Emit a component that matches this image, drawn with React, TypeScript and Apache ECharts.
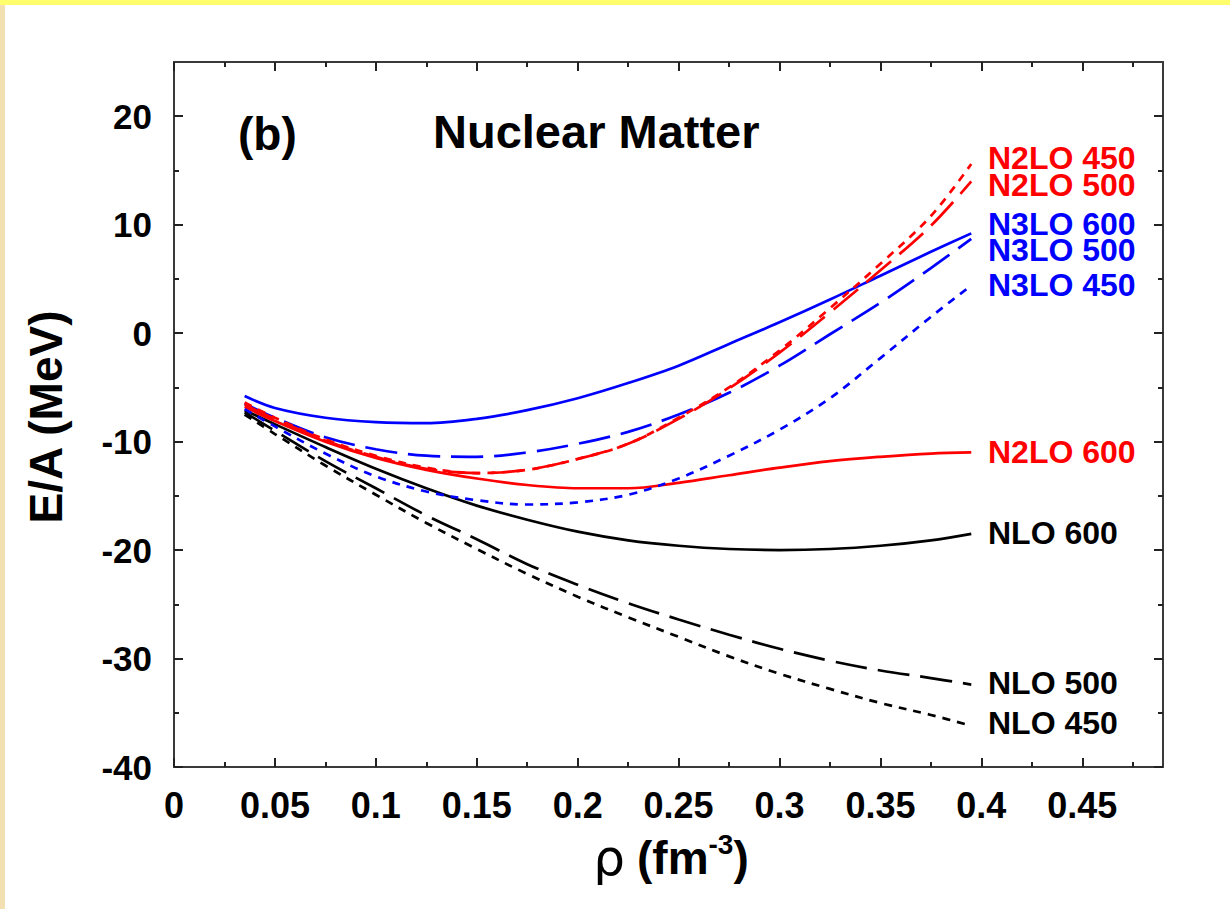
import React, { useEffect, useRef } from "react";
import * as echarts from "echarts";

// Density grid (fm^-3) on which every curve is sampled
const rho = [0.035, 0.05, 0.075, 0.1, 0.125, 0.15, 0.175, 0.2, 0.225, 0.25, 0.275, 0.3, 0.325, 0.35, 0.375, 0.395];

// Energy per nucleon E/A (MeV)
const nlo450 = [-7.5, -9.3, -12.2, -14.9, -17.5, -19.9, -22.2, -24.3, -26.2, -28.0, -29.8, -31.4, -32.8, -34.1, -35.2, -36.2];
const nlo500 = [-7.3, -9.0, -11.8, -14.3, -16.8, -19.0, -21.3, -23.2, -24.9, -26.4, -27.8, -29.1, -30.2, -31.1, -31.8, -32.4];
const nlo600 = [-7.1, -8.4, -10.5, -12.5, -14.3, -15.9, -17.2, -18.3, -19.1, -19.6, -19.9, -20.0, -19.9, -19.6, -19.1, -18.5];
const n2lo450 = [-6.4, -7.8, -9.8, -11.3, -12.4, -12.9, -12.6, -11.6, -10.2, -7.8, -5.0, -1.6, 2.3, 6.4, 10.8, 15.6];
const n2lo500 = [-6.6, -7.9, -9.9, -11.4, -12.5, -12.9, -12.6, -11.6, -10.2, -7.9, -5.1, -1.8, 1.9, 5.8, 9.9, 14.0];
const n2lo600 = [-6.8, -8.1, -10.0, -11.5, -12.6, -13.4, -14.0, -14.3, -14.3, -13.8, -13.1, -12.4, -11.8, -11.4, -11.1, -11.0];
const n3lo450 = [-7.0, -8.6, -11.1, -13.2, -14.6, -15.4, -15.8, -15.6, -14.9, -13.4, -11.3, -8.9, -6.0, -2.3, 1.5, 4.4];
const n3lo500 = [-6.5, -7.8, -9.6, -10.7, -11.3, -11.4, -11.0, -10.2, -9.1, -7.5, -5.5, -3.0, -0.1, 2.8, 6.0, 8.7];
const n3lo600 = [-5.8, -6.9, -7.8, -8.2, -8.3, -7.9, -7.1, -6.0, -4.6, -3.0, -1.0, 1.0, 3.1, 5.3, 7.5, 9.2];

// Axis ticks
const xMajor = [0, 0.05, 0.1, 0.15, 0.2, 0.25, 0.3, 0.35, 0.4, 0.45];
const xMinor = [0.025, 0.075, 0.125, 0.175, 0.225, 0.275, 0.325, 0.375, 0.425, 0.475];
const yMajor = [-40, -30, -20, -10, 0, 10, 20];
const yMinor = [-35, -25, -15, -5, 5, 15];

// Curve labels beside the right ends; closely stacked pairs share one two-line block
const labelNames = ["N2LO 450\nN2LO 500", "N3LO 600\nN3LO 500", "N3LO 450", "N2LO 600", "NLO 600", "NLO 500", "NLO 450"];
const labelColors = ["#ff0000", "#0000ff", "#0000ff", "#ff0000", "#000000", "#000000", "#000000"];
const labelY = [171.5, 237, 285, 452, 533, 683, 723];
const labelLineHeight = [27, 26, 30, 30, 30, 30, 30];

const FONT = "'Liberation Sans', Arial, Helvetica, sans-serif";
const RED = "#ff0000";
const BLUE = "#0000ff";
const BLACK = "#000000";
const LONG_DASH: number[] = [32, 11];
const SHORT_DASH: number[] = [8, 7];

function pairs(ys: number[]) {
  return rho.map((x, i) => [x, ys[i]]);
}

function curve(name: string, ys: number[], color: string, type: any) {
  return {
    name,
    type: "line",
    data: pairs(ys),
    smooth: 0.35,
    showSymbol: false,
    symbol: "none",
    xAxisIndex: 0,
    yAxisIndex: 0,
    lineStyle: { color, width: 2.7, type },
    z: 3,
  };
}

function xAxisDef(position: string, ticks: number[], len: number, labels: boolean, line: boolean) {
  return {
    type: "value",
    position,
    min: 0,
    max: 0.49,
    interval: 0.05,
    splitLine: { show: false },
    axisLine: { show: line, onZero: false, lineStyle: { color: "#3a3a3a", width: 2 } },
    axisTick: { show: true, inside: true, length: len, customValues: ticks, lineStyle: { color: "#222", width: 2 } },
    axisLabel: {
      show: labels,
      customValues: ticks,
      margin: 20,
      fontFamily: FONT,
      fontWeight: "bold",
      fontSize: 36,
      color: "#000",
      formatter: (v: number) => (v === 0 ? "0" : String(+v.toFixed(3))),
    },
  };
}

function yAxisDef(position: string, ticks: number[], len: number, labels: boolean, line: boolean) {
  return {
    type: "value",
    position,
    min: -40,
    max: 25,
    interval: 10,
    splitLine: { show: false },
    axisLine: { show: line, onZero: false, lineStyle: { color: "#3a3a3a", width: 2 } },
    axisTick: { show: true, inside: true, length: len, customValues: ticks, lineStyle: { color: "#222", width: 2 } },
    axisLabel: {
      show: labels,
      customValues: ticks,
      margin: 22,
      fontFamily: FONT,
      fontWeight: "bold",
      fontSize: 35,
      color: "#000",
      formatter: (v: number) => String(v),
    },
  };
}

export default function App() {
  const ref = useRef<HTMLDivElement>(null);

  useEffect(() => {
    if (!ref.current) return;
    const chart = echarts.init(ref.current, null, { renderer: "svg" });

    const labels = labelNames.map((t, i) => ({
      type: "text",
      x: 988,
      y: labelY[i],
      style: {
        text: t,
        fill: labelColors[i],
        fontFamily: FONT,
        fontWeight: "bold",
        fontSize: 32,
        lineHeight: labelLineHeight[i],
        align: "left",
        verticalAlign: "middle",
      },
      z: 10,
    }));

    chart.setOption({
      animation: false,
      backgroundColor: "#ffffff",
      grid: { left: 174, top: 62, right: 67, bottom: 142, containLabel: false },
      xAxis: [
        xAxisDef("bottom", xMajor, 9, true, true),
        xAxisDef("bottom", xMinor, 5, false, false),
        xAxisDef("top", xMajor, 9, false, true),
        xAxisDef("top", xMinor, 5, false, false),
      ],
      yAxis: [
        yAxisDef("left", yMajor, 9, true, true),
        yAxisDef("left", yMinor, 5, false, false),
        yAxisDef("right", yMajor, 9, false, true),
        yAxisDef("right", yMinor, 5, false, false),
      ],
      series: [
        curve("NLO 450", nlo450, BLACK, SHORT_DASH),
        curve("NLO 500", nlo500, BLACK, LONG_DASH),
        curve("NLO 600", nlo600, BLACK, "solid"),
        curve("N2LO 600", n2lo600, RED, "solid"),
        curve("N3LO 450", n3lo450, BLUE, SHORT_DASH),
        curve("N3LO 500", n3lo500, BLUE, LONG_DASH),
        curve("N3LO 600", n3lo600, BLUE, "solid"),
        curve("N2LO 500", n2lo500, RED, LONG_DASH),
        curve("N2LO 450", n2lo450, RED, SHORT_DASH),
      ],
      graphic: [
        { type: "rect", shape: { x: 0, y: 0, width: 1230, height: 5 }, style: { fill: "#ffff6e" }, silent: true },
        { type: "rect", shape: { x: 0, y: 5, width: 5, height: 904 }, style: { fill: "#f2e0b2" }, silent: true },
        {
          type: "text",
          x: 238,
          y: 134,
          style: { text: "(b)", fill: "#000", fontFamily: FONT, fontWeight: "bold", fontSize: 46, align: "left", verticalAlign: "middle" },
        },
        {
          type: "text",
          x: 433,
          y: 131,
          style: { text: "Nuclear Matter", fill: "#000", fontFamily: FONT, fontWeight: "bold", fontSize: 47, align: "left", verticalAlign: "middle" },
        },
        {
          type: "text",
          x: 46,
          y: 417,
          rotation: Math.PI / 2,
          style: { text: "E/A (MeV)", fill: "#000", fontFamily: FONT, fontWeight: "bold", fontSize: 46, align: "center", verticalAlign: "middle" },
        },
        {
          type: "text",
          x: 671,
          y: 858,
          style: {
            text: "{r|ρ}{sp| }{b|(fm}{s|-3}{b|)}",
            align: "center",
            verticalAlign: "middle",
            rich: {
              r: { fontFamily: "'DejaVu Sans', sans-serif", fontSize: 50, fill: "#000", lineHeight: 56, verticalAlign: "middle" },
              sp: { fontFamily: FONT, fontSize: 20, width: 12, lineHeight: 56, verticalAlign: "middle" },
              b: { fontFamily: FONT, fontWeight: "bold", fontSize: 46, fill: "#000", lineHeight: 56, verticalAlign: "middle" },
              s: { fontFamily: FONT, fontWeight: "bold", fontSize: 28, fill: "#000", lineHeight: 28, verticalAlign: "top" },
            },
          },
        },
        ...labels,
      ],
    });

    return () => chart.dispose();
  }, []);

  return (
    <div
      ref={ref}
      style={{ position: "fixed", left: 0, top: 0, width: 1230, height: 909, background: "#fff" }}
    />
  );
}
